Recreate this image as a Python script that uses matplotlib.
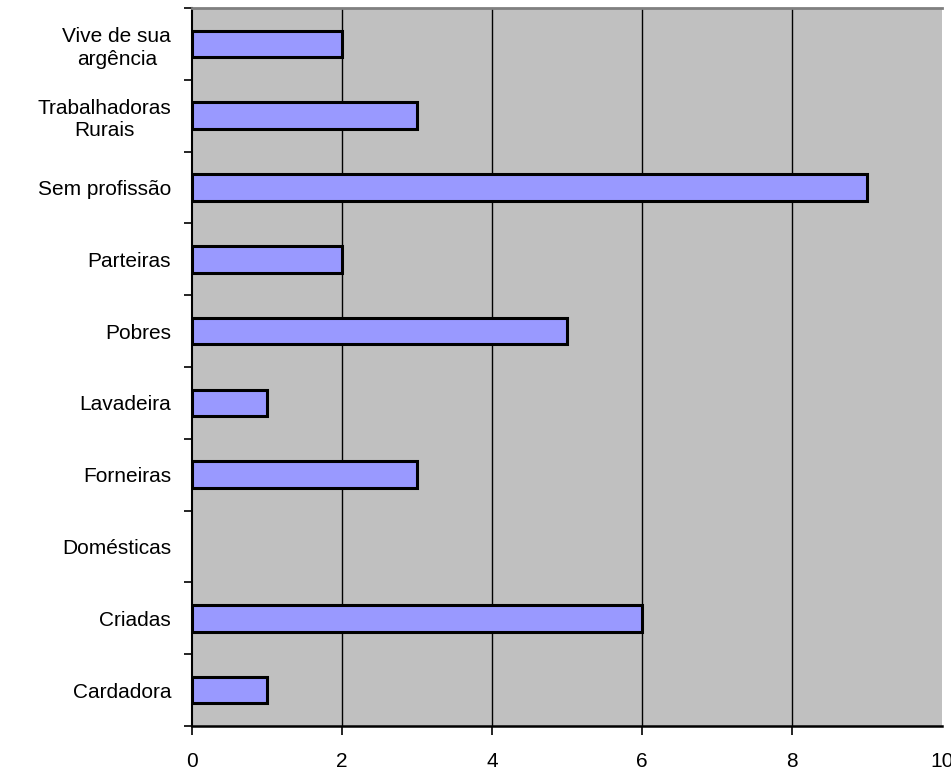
import numpy as np
import matplotlib
matplotlib.use("Agg")
import matplotlib.pyplot as plt

categorias = ["Cardadora", "Criadas", "Domésticas", "Forneiras", "Lavadeira",
              "Pobres", "Parteiras", "Sem profissão", "Trabalhadoras\nRurais",
              "Vive de sua\nargência"]
valores = [1, 6, 0, 3, 1, 5, 2, 9, 3, 2]
xticks = [0, 2, 4, 6, 8, 10]
xlabels = ["0", "2", "4", "6", "8", "10"]

plt.rcParams['font.family'] = ['Liberation Sans', 'DejaVu Sans']

fig = plt.figure(figsize=(9.51, 7.76), dpi=100)
ax = fig.add_axes([192/951, 1 - 726/776, 750/951, 718/776])
ax.set_facecolor("#C0C0C0")

y = np.arange(len(categorias))
# no outline for empty bars (Domésticas)
lw = [2.2 if v > 0 else 0 for v in valores]
ax.barh(y, valores, height=0.37, color="#9999FF", edgecolor="black",
        linewidth=lw, zorder=3)

ax.set_xlim(0, 10)
ax.set_ylim(-0.5, len(categorias) - 0.5)

ax.set_xticks(xticks)
ax.set_xticklabels(xlabels, fontsize=15)
ax.tick_params(axis='x', direction='out', length=6.5, width=1.2, pad=12)
ax.grid(axis='x', color='black', linewidth=1.0, zorder=1)
ax.xaxis.get_major_ticks()[-1].tick1line.set_visible(False)
ax.xaxis.get_major_ticks()[-1].gridline.set_visible(False)
ax.xaxis.get_major_ticks()[0].gridline.set_visible(False)

ax.set_yticks(y)
ax.set_yticklabels(categorias, fontsize=15, multialignment='center',
                   linespacing=1.25)
ax.set_yticks(np.arange(-0.5, len(categorias)), minor=True)
ax.tick_params(axis='y', which='major', length=0, pad=15)
ax.tick_params(axis='y', which='minor', direction='out', length=6, width=1.2)

ax.spines['right'].set_visible(False)
ax.spines['top'].set_color('#808080')
ax.spines['top'].set_linewidth(2)
ax.spines['left'].set_linewidth(1.5)
ax.spines['bottom'].set_linewidth(1.8)
ax.set_axisbelow(True)

fig.savefig("out.png", dpi=100)
